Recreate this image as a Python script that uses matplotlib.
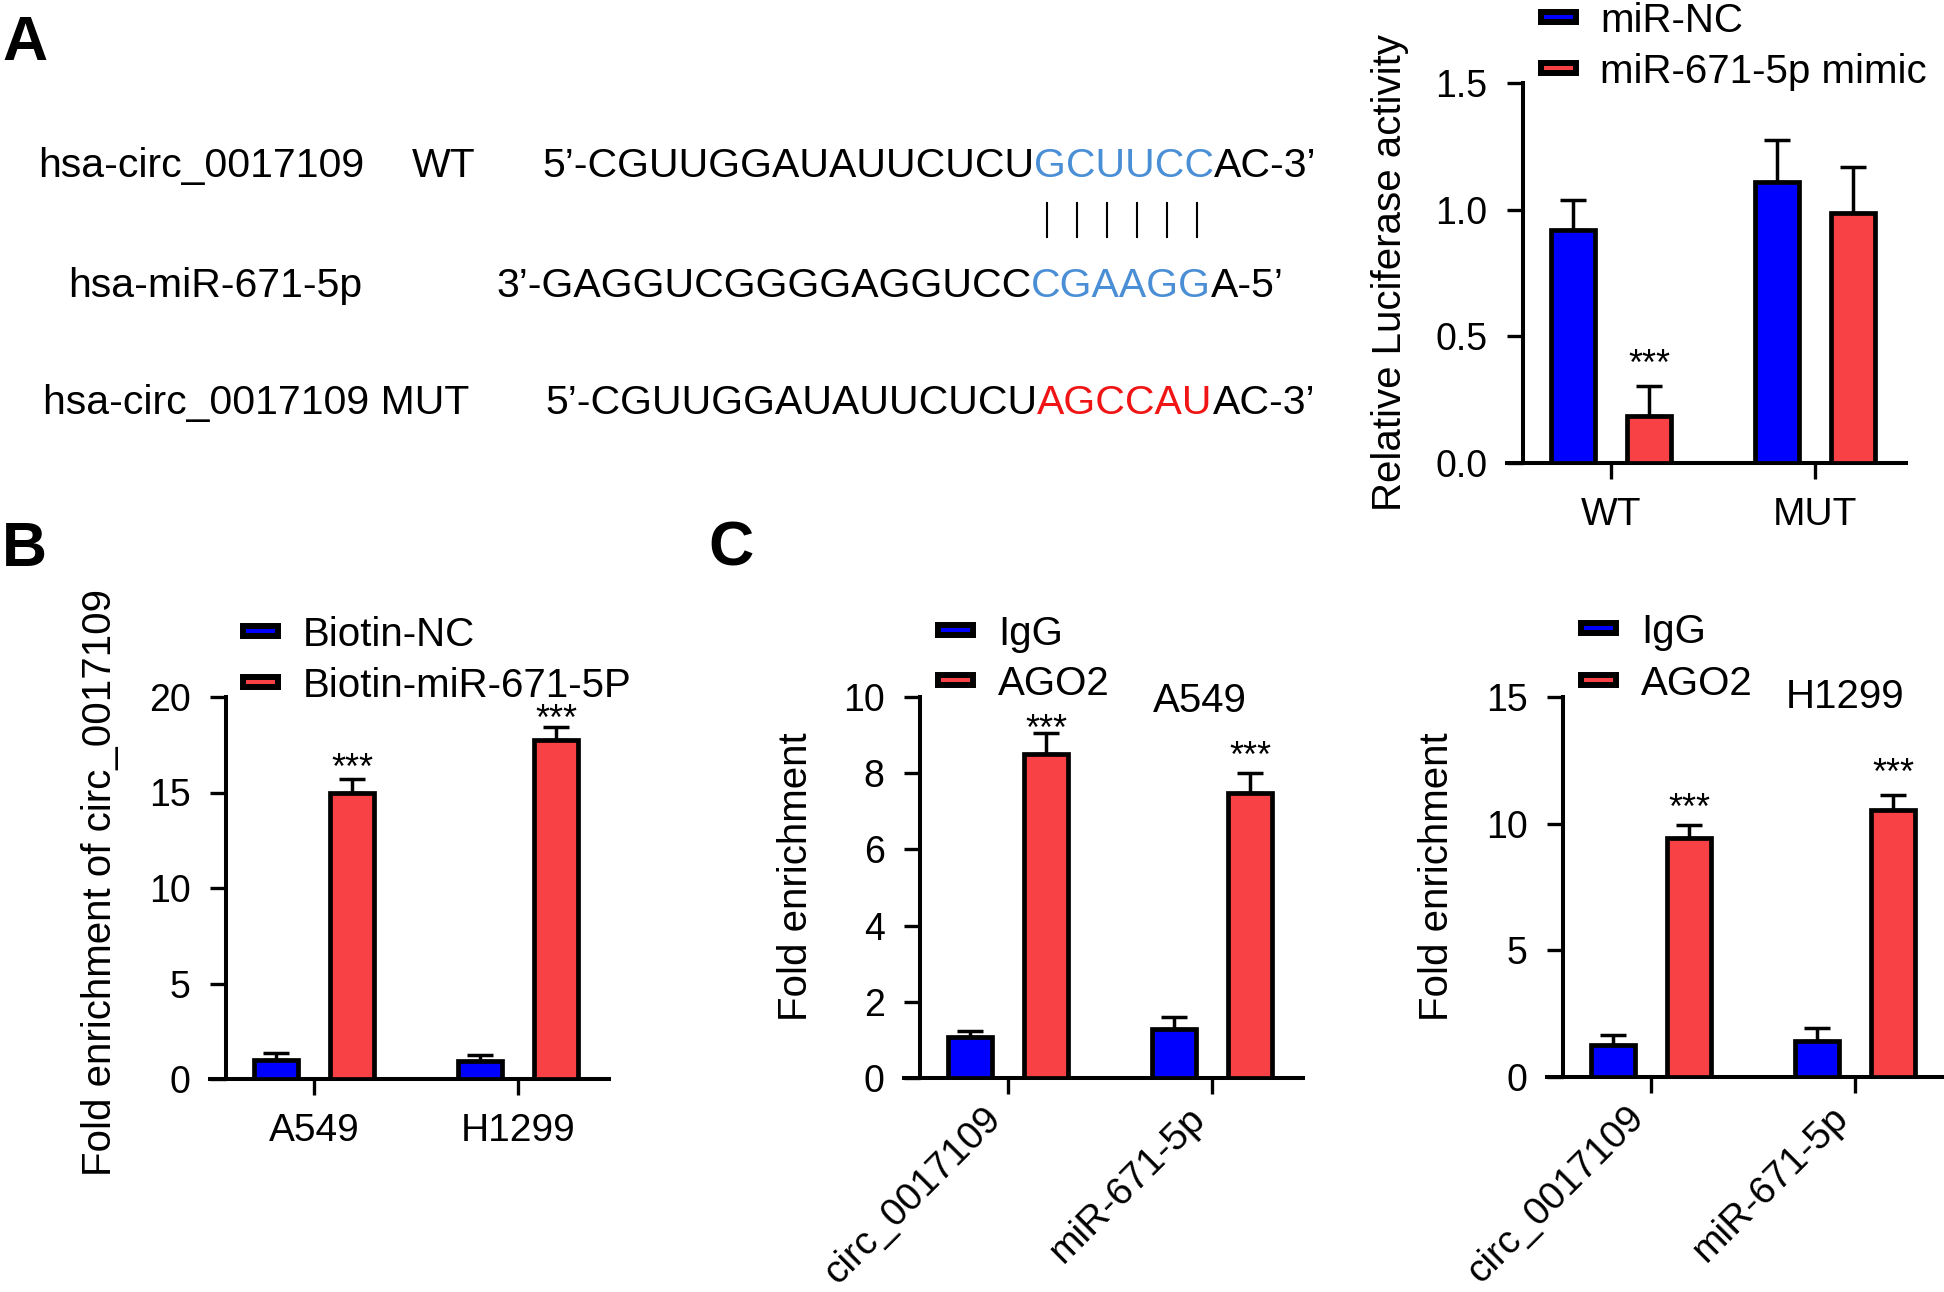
import numpy as np
import matplotlib.pyplot as plt
from matplotlib.patches import Rectangle
from matplotlib.lines import Line2D
from matplotlib.ticker import FormatStrFormatter
from matplotlib.transforms import ScaledTranslation

plt.rcParams['font.family'] = ['Liberation Sans', 'DejaVu Sans']

W, H = 1944, 1292
BLUE = '#0000FE'
RED = '#F84145'
SEED_BLUE = '#4A8FD6'
MUT_RED = '#F01414'

# ---- data ----
luc_groups = ['WT', 'MUT']
luc_nc = [0.92, 1.11]
luc_nc_err = [0.12, 0.165]
luc_mimic = [0.185, 0.985]
luc_mimic_err = [0.12, 0.185]
luc_stars = ['***', '']

pull_groups = ['A549', 'H1299']
pull_nc = [1.0, 0.92]
pull_nc_err = [0.38, 0.34]
pull_mir = [14.95, 17.75]
pull_mir_err = [0.75, 0.68]
pull_stars = ['***', '***']

rip_groups = ['circ_0017109', 'miR-671-5p']
a549_igg = [1.07, 1.28]
a549_igg_err = [0.16, 0.33]
a549_ago2 = [8.5, 7.48]
a549_ago2_err = [0.56, 0.53]
h1299_igg = [1.27, 1.44]
h1299_igg_err = [0.38, 0.5]
h1299_ago2 = [9.45, 10.55]
h1299_ago2_err = [0.5, 0.6]
rip_stars = ['***', '***']


def fx(x):
    return x / W


def fy(y):
    return 1 - y / H


def bar_panel(box, cats, s1, e1, s2, e2, top, step, stars, star_pad, fmt='%d', rot=0):
    x0, y0, x1, y1 = box
    ax = fig.add_axes([fx(x0), fy(y1), (x1 - x0) / W, (y1 - y0) / H])
    x = np.arange(len(cats))
    for vals, errs, col, off in ((s1, e1, BLUE, -0.188), (s2, e2, RED, 0.188)):
        ax.errorbar(x + off, vals, yerr=[np.zeros(len(vals)), errs], fmt='none',
                    ecolor='k', elinewidth=2.5, capsize=9.4, capthick=2.5, zorder=2)
        ax.bar(x + off, vals, width=0.216, color=col, edgecolor='k', linewidth=3.4, zorder=3)
    for i, s in enumerate(stars):
        if s:
            ax.annotate(s, (x[i] + 0.188, s2[i] + e2[i]), xytext=(0, (star_pad[i] - 21) * 0.72),
                        textcoords='offset points', ha='center', va='baseline', fontsize=26)
    ax.set_xlim(-0.51, 1.446)
    ax.set_ylim(0, top)
    ax.set_yticks(np.arange(0, top + step / 2, step))
    ax.yaxis.set_major_formatter(FormatStrFormatter(fmt))
    ax.set_xticks(x)
    if rot:
        ax.set_xticklabels(cats, rotation=rot, ha='right', va='top', fontsize=28)
        shift = ScaledTranslation(0.1, -0.03, fig.dpi_scale_trans)
        for lab in ax.get_xticklabels():
            lab.set_transform(lab.get_transform() + shift)
    else:
        ax.set_xticklabels(cats, fontsize=28)
    ax.spines['left'].set_position(('data', -0.431))
    for sp in ['top', 'right']:
        ax.spines[sp].set_visible(False)
    for sp in ['left', 'bottom']:
        ax.spines[sp].set_linewidth(2.9)
    ax.tick_params(axis='y', direction='out', length=11.5, width=2.4, labelsize=27, pad=14)
    ax.tick_params(axis='x', direction='out', length=11.5, width=2.4,
                   pad=5 if rot else 13)
    return ax


def legend(cx, rows, tx, labels, colors):
    for y, lab, col in zip(rows, labels, colors):
        fig.add_artist(Rectangle((fx(cx - 17.5), fy(y + 5)), 35 / W, 10 / H,
                                 transform=fig.transFigure, facecolor=col,
                                 edgecolor='k', linewidth=4.3))
        fig.text(fx(tx), fy(y + 14.6), lab, fontsize=29, va='baseline', ha='left')


def seq_row(x, y, pieces):
    out = [fig.text(fx(x), fy(y), pieces[0][0], color=pieces[0][1], fontsize=29.5,
                    va='baseline', ha='left')]
    for txt, col in pieces[1:]:
        t = plt.annotate(txt, xy=(1, 0), xycoords=out[-1], color=col, fontsize=29.5,
                         va='bottom', ha='left', annotation_clip=False)
        out.append(t)
    return out


fig = plt.figure(figsize=(W / 100, H / 100), dpi=100)

# ---- panel A: sequences ----
fig.text(fx(2), fy(60), 'A', fontsize=45, fontweight='bold', va='baseline')
fig.text(fx(38), fy(177), 'hsa-circ_0017109', fontsize=29.5, va='baseline')
fig.text(fx(412), fy(177), 'WT', fontsize=29.5, va='baseline')
fig.text(fx(68), fy(297), 'hsa-miR-671-5p', fontsize=29.5, va='baseline')
fig.text(fx(43), fy(414), 'hsa-circ_0017109 MUT', fontsize=29.5, va='baseline')

ax_txt = fig.add_axes([0, 0, 1, 1])
ax_txt.axis('off')
plt.sca(ax_txt)
row1 = seq_row(542, 177, [('5’-CGUUGGAUAUUCUCU', 'k'), ('GCUUCC', SEED_BLUE), ('AC-3’', 'k')])
row2 = seq_row(496, 297, [('3’-GAGGUCGGGGAGGUCC', 'k'), ('CGAAGG', SEED_BLUE), ('A-5’', 'k')])
row3 = seq_row(545, 414, [('5’-CGUUGGAUAUUCUCU', 'k'), ('AGCCAU', MUT_RED), ('AC-3’', 'k')])

# ---- panel A: luciferase ----
bar_panel((1507, 83, 1906, 463), luc_groups, luc_nc, luc_nc_err, luc_mimic, luc_mimic_err,
          1.5, 0.5, luc_stars, [32, 0], fmt='%.1f')
fig.text(fx(1390), fy(273), 'Relative Luciferase activity', fontsize=29, rotation=90,
         ha='center', va='center')
legend(1558, [17, 68], 1600, ['miR-NC', 'miR-671-5p mimic'], [BLUE, RED])

# ---- panel B ----
fig.text(fx(2), fy(566), 'B', fontsize=45, fontweight='bold', va='baseline')
bar_panel((210, 697, 609, 1079), pull_groups, pull_nc, pull_nc_err, pull_mir, pull_mir_err,
          20, 5, pull_stars, [21, 18])
fig.text(fx(100), fy(882), 'Fold enrichment of circ_0017109', fontsize=29, rotation=90,
         ha='center', va='center')
legend(260, [631, 682], 303, ['Biotin-NC', 'Biotin-miR-671-5P'], [BLUE, RED])

# ---- panel C ----
fig.text(fx(708), fy(566), 'C', fontsize=45, fontweight='bold', va='baseline')
bar_panel((904, 697, 1303, 1078), rip_groups, a549_igg, a549_igg_err, a549_ago2, a549_ago2_err,
          10, 2, rip_stars, [14, 27], rot=45)
fig.text(fx(796), fy(877), 'Fold enrichment', fontsize=29, rotation=90, ha='center', va='center')
fig.text(fx(1200), fy(712), 'A549', fontsize=29, ha='center', va='baseline')
legend(955, [630, 680], 998, ['IgG', 'AGO2'], [BLUE, RED])

bar_panel((1547, 697, 1946, 1077), rip_groups, h1299_igg, h1299_igg_err, h1299_ago2, h1299_ago2_err,
          15, 5, rip_stars, [27, 32], rot=45)
fig.text(fx(1437), fy(877), 'Fold enrichment', fontsize=29, rotation=90, ha='center', va='center')
fig.text(fx(1845), fy(708), 'H1299', fontsize=29, ha='center', va='baseline')
legend(1598, [628, 680], 1641, ['IgG', 'AGO2'], [BLUE, RED])

# pairing lines under the seed region
fig.canvas.draw()
bb = row1[1].get_window_extent(fig.canvas.get_renderer())
step = bb.width / 6
for i in range(6):
    xp = bb.x0 + step * (i + 0.42)
    fig.add_artist(Line2D([xp / W, xp / W], [fy(203), fy(237)], transform=fig.transFigure,
                          color='k', linewidth=1.5))

fig.savefig('out.png', dpi=100)
